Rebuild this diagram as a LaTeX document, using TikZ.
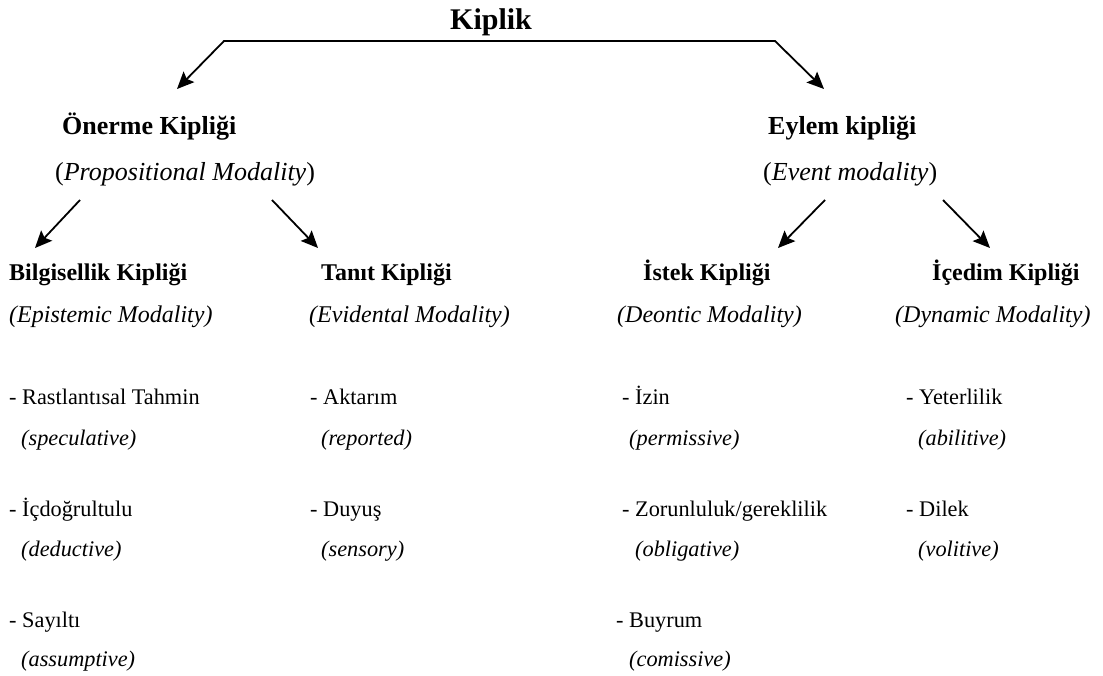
\documentclass[tikz,border=0pt]{standalone}
\usepackage{fontspec}
\setmainfont{Liberation Serif}
\usetikzlibrary{arrows.meta}

\begin{document}
\begin{tikzpicture}[
    x=1pt, y=-1pt,
    txt/.style={anchor=base west, inner sep=0pt},
    root/.style={txt, font=\fontsize{30}{36}\selectfont\bfseries},
    main/.style={txt, font=\fontsize{26}{31}\selectfont\bfseries},
    maingl/.style={txt, font=\fontsize{26}{31}\selectfont},
    sub/.style={txt, font=\fontsize{24}{29}\selectfont\bfseries},
    subgl/.style={txt, font=\fontsize{24}{29}\selectfont\itshape},
    item/.style={txt, font=\fontsize{22.3}{27}\selectfont},
    itemgl/.style={txt, font=\fontsize{22.3}{27}\selectfont\itshape},
    arr/.style={->, >={Stealth[length=17pt, width=15pt, inset=3pt]}, line width=1.8pt},
]
\useasboundingbox (0,0) rectangle (1103,675);

% Root
\node[root] (kiplik) at (450,29) {Kiplik};

% First level
\node[main]   (onerme)   at (62,134)  {Önerme Kipliği};
\node[maingl] (onermegl) at (55,180)  {(\textit{Propositional Modality})};
\node[main]   (eylem)    at (768,134) {Eylem kipliği};
\node[maingl] (eylemgl)  at (763,180) {(\textit{Event modality})};

% Second level
\node[sub]   (bilgi)    at (9,280)   {Bilgisellik Kipliği};
\node[subgl] (bilgigl)  at (9,322)   {(Epistemic Modality)};
\node[sub]   (tanit)    at (321,280) {Tanıt Kipliği};
\node[subgl] (tanitgl)  at (309,322) {(Evidental Modality)};
\node[sub]   (istek)    at (643,280) {İstek Kipliği};
\node[subgl] (istekgl)  at (617,322) {(Deontic Modality)};
\node[sub]   (icedim)   at (932,280) {İçedim Kipliği};
\node[subgl] (icedimgl) at (895,322) {(Dynamic Modality)};

% Items, epistemic
\node[item]   (spec)    at (9,404)   {- Rastlantısal Tahmin};
\node[itemgl] (specgl)  at (21,445)  {(speculative)};
\node[item]   (dedu)    at (9,516)   {- İçdoğrultulu};
\node[itemgl] (dedugl)  at (21,556)  {(deductive)};
\node[item]   (assu)    at (9,627)   {- Sayıltı};
\node[itemgl] (assugl)  at (21,666)  {(assumptive)};

% Items, evidential
\node[item]   (repo)    at (310,404) {- Aktarım};
\node[itemgl] (repogl)  at (321,445) {(reported)};
\node[item]   (sens)    at (310,516) {- Duyuş};
\node[itemgl] (sensgl)  at (321,556) {(sensory)};

% Items, deontic
\node[item]   (perm)    at (622,404) {- İzin};
\node[itemgl] (permgl)  at (629,445) {(permissive)};
\node[item]   (obli)    at (622,516) {- Zorunluluk/gereklilik};
\node[itemgl] (obligl)  at (635,556) {(obligative)};
\node[item]   (comi)    at (616,627) {- Buyrum};
\node[itemgl] (comigl)  at (629,666) {(comissive)};

% Items, dynamic
\node[item]   (abil)    at (906,404) {- Yeterlilik};
\node[itemgl] (abilgl)  at (918,445) {(abilitive)};
\node[item]   (voli)    at (906,516) {- Dilek};
\node[itemgl] (voligl)  at (918,556) {(volitive)};

% Arrow ends
\coordinate (barl) at (224,41);
\coordinate (barr) at (775,41);
\coordinate (tipl) at (177,89);
\coordinate (tipr) at (824,89);
\coordinate (pl0) at (80,200);   \coordinate (pl1) at (35,248);
\coordinate (pr0) at (272,200);  \coordinate (pr1) at (318,248);
\coordinate (el0) at (825,200);  \coordinate (el1) at (778,248);
\coordinate (er0) at (943,200);  \coordinate (er1) at (990,248);

% Edges
\draw[arr, <->] (tipl) -- (barl) -- (barr) -- (tipr);
\draw[arr] (pl0) -- (pl1);
\draw[arr] (pr0) -- (pr1);
\draw[arr] (el0) -- (el1);
\draw[arr] (er0) -- (er1);

\end{tikzpicture}
\end{document}
